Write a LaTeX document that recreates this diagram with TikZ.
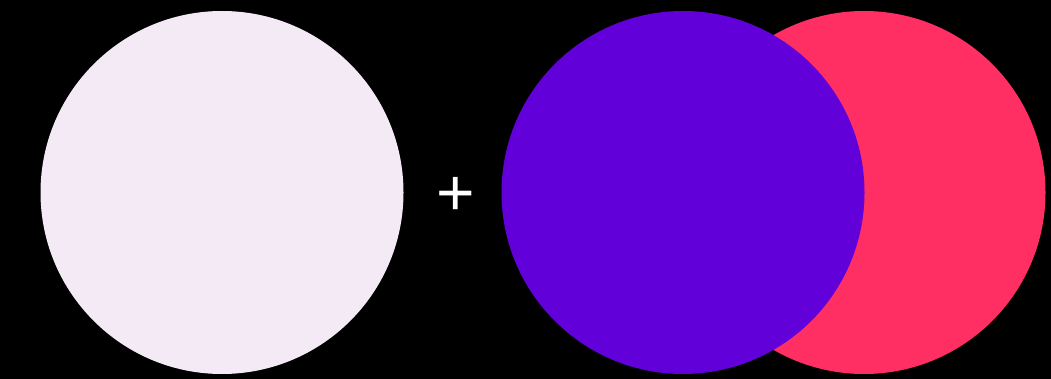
\documentclass[tikz,border=0pt]{standalone}
\usepackage{fontspec}
\setmainfont{Liberation Sans}
\definecolor{lav}{HTML}{F3EAF6}
\definecolor{purp}{HTML}{6200DA}
\definecolor{pinkc}{HTML}{FF2E63}
\begin{document}
\begin{tikzpicture}[x=1pt,y=-1pt,
  disc/.style={circle,minimum size=363pt,inner sep=0pt,draw=none}]
\fill[black] (0,0) rectangle (1051,379);
\useasboundingbox (0,0) rectangle (1051,379);
\node[disc,fill=lav] (left) at (222,192.5) {};
\node[disc,fill=pinkc] (pink) at (864,192.5) {};
\node[disc,fill=purp] (purple) at (683,192.5) {};
\node[text=white,font=\fontsize{66}{66}\selectfont,inner sep=0pt] (plus) at (456,196) {+};
\end{tikzpicture}
\end{document}
